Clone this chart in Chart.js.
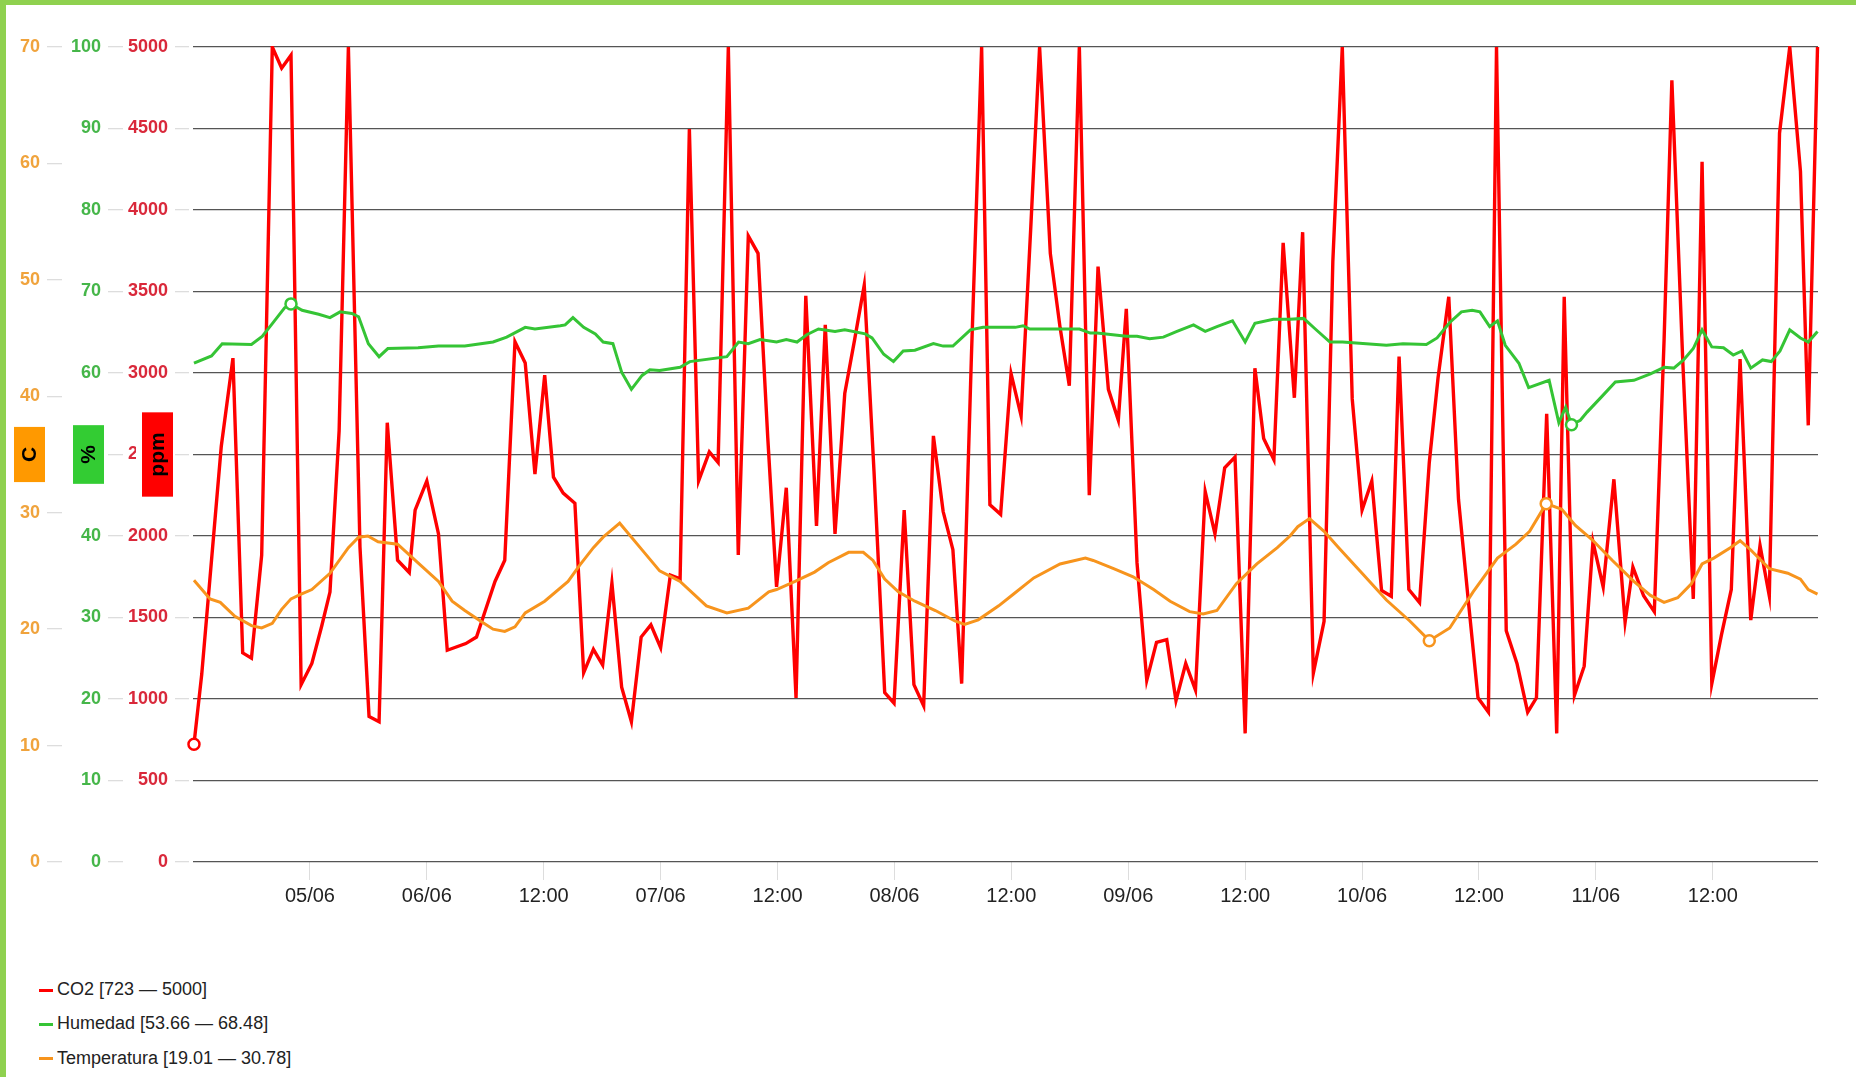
<!DOCTYPE html>
<html>
<head>
<meta charset="utf-8">
<script src="https://cdn.jsdelivr.net/npm/chart.js@4.4.1/dist/chart.umd.min.js"></script>
<style>
  html, body { margin: 0; padding: 0; background: #fff; }
  body { border-top: 5px solid #8fd14f; border-left: 6px solid #8fd14f; height: 1072px; overflow: hidden; font-family: "Liberation Sans", Arial, sans-serif; }
  #wrap { position: absolute; left: 6px; top: 5px; width: 1850px; height: 917px; }
  #legend { position: absolute; left: 39px; top: 972px; font-size: 18px; color: #222; }
  #legend div { height: 34.3px; line-height: 34.3px; white-space: nowrap; }
  #legend span { display: inline-block; width: 14px; height: 3px; margin-right: 4px; vertical-align: middle; }
</style>
</head>
<body>
<div id="wrap"><canvas id="sensores"></canvas></div>
<div id="legend"></div>
<script>
// hours since the start of the plot
var co2Hours = [0.1,0.9,2.9,4.1,5.1,6.0,7.05,8.14,9.1,10.06,11.1,12.2,13.2,14.06,15.0,15.95,17.14,18.07,19.1,19.94,
  21.0,22.2,22.8,24.0,25.2,26.1,28.0,29.1,30.1,31.0,32.0,33.05,34.1,35.1,36.1,37.0,38.0,39.2,40.1,41.1,
  42.05,43.0,44.0,45.0,46.0,47.0,48.0,49.0,50.0,50.95,51.9,53.0,53.9,54.95,55.97,57.0,58.0,59.0,59.9,60.9,
  61.9,62.9,64.0,64.9,65.9,66.9,67.9,68.9,69.9,71.0,71.96,73.0,74.0,75.0,76.0,77.0,78.0,78.9,79.9,80.95,
  81.8,82.9,83.97,85.0,86.0,86.9,88.0,89.0,89.95,90.98,92.0,92.9,93.96,94.98,95.8,96.9,97.9,98.9,99.95,100.9,
  101.9,102.9,103.9,104.9,105.9,106.96,108.0,109.0,109.9,110.95,111.9,113.05,113.9,115.0,116.1,117.0,117.97,118.99,120.0,121.0,
  122.0,123.0,123.8,124.8,125.9,126.9,127.8,128.9,129.9,130.9,131.9,132.97,133.8,134.8,135.9,137.0,137.9,138.95,139.98,140.75,
  141.8,142.8,143.7,144.75,145.85,147.0,147.8,148.9,150.0,151.0,151.8,152.9,154.0,154.9,155.9,156.9,157.9,158.8,159.9,160.85,
  161.8,162.85,163.9,165.0,165.8,166.75];
var co2Values = [723,1153,2549,3091,1283,1250,1883,5000,4870,4950,1088,1218,1445,1656,2646,5000,1932,893,860,2695,
  1851,1776,2159,2338,2013,1299,1340,1380,1560,1721,1851,3192,3062,2380,2987,2361,2263,2201,1162,1305,
  1208,1711,1072,860,1380,1455,1315,1760,1737,4497,2338,2516,2451,5000,1883,3841,3734,2600,1688,2296,
  1007,3474,2062,3296,2013,2874,3200,3539,2400,1039,974,2159,1088,958,2614,2150,1916,1094,3100,5000,
  2192,2133,2997,2737,3900,5000,3734,3280,2922,5000,2250,3653,2900,2711,3393,1835,1114,1347,1364,990,
  1218,1055,2273,2013,2419,2484,789,3029,2598,2468,3799,2848,3864,1159,1477,3685,5000,2841,2159,2338,
  1666,1630,3101,1672,1591,2451,2971,3468,2224,1607,1007,919,5000,1419,1218,919,1007,2750,789,3468,
  1023,1201,1964,1688,2348,1471,1809,1633,1536,3200,4796,3101,1614,4296,1094,1396,1672,3085,1484,1942,
  1633,4471,5000,4237,2679,5000];

var humHours = [0.1,1.9,3.0,6.0,7.1,8.1,9.4,10.06,11.2,12.9,14.06,15.1,16.3,17.0,18.0,19.1,20.0,23.1,25.2,27.9,
  30.8,32.2,34.1,35.1,37.7,38.2,39.0,40.1,41.3,42.1,43.1,44.0,45.0,46.1,46.9,47.9,50.0,51.0,54.8,56.0,
  57.0,58.2,59.9,60.9,62.0,63.0,64.2,65.9,66.9,69.0,69.7,70.9,71.9,72.9,74.1,76.0,77.0,78.0,79.8,81.1,
  84.4,85.2,85.9,91.0,92.1,92.8,95.8,96.9,98.2,99.6,101.0,102.7,103.9,105.1,106.7,108.0,109.0,110.9,112.6,114.0,
  115.2,116.7,118.0,122.5,124.2,126.6,127.7,129.0,130.2,131.3,132.1,133.1,133.9,134.7,136.1,137.1,139.2,140.2,140.9,141.5,
  142.4,143.1,144.6,146.0,147.9,149.6,151.0,152.0,153.0,154.0,154.9,155.9,157.1,158.1,159.0,159.9,161.1,162.0,162.9,163.9,
  165.0,165.8,166.75];
var humValues = [61.2,62.1,63.6,63.5,64.5,66.0,68.0,68.48,67.7,67.2,66.8,67.5,67.3,66.9,63.6,62.0,63.0,63.1,63.3,63.3,
  63.8,64.4,65.6,65.4,65.8,65.9,66.8,65.6,64.8,63.8,63.6,60.1,58.0,59.7,60.4,60.3,60.7,61.4,62.0,63.8,
  63.6,64.1,63.8,64.1,63.8,64.7,65.4,65.1,65.3,64.8,64.3,62.3,61.4,62.7,62.8,63.6,63.3,63.3,65.3,65.6,
  65.6,65.8,65.4,65.4,64.9,64.9,64.5,64.5,64.2,64.4,65.1,65.9,65.1,65.7,66.4,63.8,66.1,66.6,66.6,66.7,
  65.4,63.8,63.8,63.4,63.6,63.5,64.3,66.2,67.5,67.7,67.5,65.7,66.4,63.4,61.2,58.2,59.1,53.9,55.8,53.66,
  54.2,55.2,57.1,58.9,59.1,59.9,60.7,60.6,61.6,63.0,65.3,63.2,63.1,62.2,62.7,60.6,61.6,61.4,62.7,65.3,
  64.3,63.8,65.1];

var tempHours = [0.1,1.75,2.8,4.3,6.0,7.05,8.14,9.1,10.06,11.1,12.2,14.06,15.95,17.0,17.95,19.0,21.0,23.1,25.2,26.6,
  27.9,29.5,30.8,32.0,33.05,34.1,36.1,38.5,39.7,41.1,42.1,43.8,45.9,47.9,50.0,52.7,54.8,57.0,59.1,59.9,
  61.8,63.8,65.2,67.3,68.8,69.8,71.0,72.4,74.1,76.2,78.2,79.2,80.6,82.7,84.2,86.3,89.0,91.6,92.4,94.5,
  96.5,98.6,100.3,102.3,103.7,105.1,107.1,109.2,111.3,112.6,113.4,114.6,116.1,117.6,120.0,122.5,124.9,126.9,129.0,131.4,
  133.9,135.8,137.2,138.9,140.5,141.9,143.6,145.7,147.9,149.6,151.0,152.4,153.8,154.9,156.1,157.8,158.8,159.9,161.8,163.7,
  165.0,165.8,166.75];
var tempValues = [24.2,22.6,22.3,21.1,20.3,20.1,20.5,21.7,22.6,23.0,23.4,24.8,27.0,27.9,28.0,27.5,27.3,25.7,24.1,22.4,
  21.6,20.7,20.0,19.8,20.2,21.4,22.4,24.1,25.5,27.0,27.9,29.1,27.0,25.0,24.1,22.0,21.4,21.8,23.2,23.4,
  24.1,24.9,25.7,26.6,26.6,25.9,24.3,23.2,22.4,21.6,20.7,20.4,20.8,22.0,23.0,24.4,25.6,26.1,25.9,25.2,
  24.5,23.4,22.4,21.5,21.3,21.6,23.9,25.6,27.0,28.0,28.8,29.5,28.4,27.0,24.8,22.5,20.7,19.01,20.1,23.2,
  26.1,27.3,28.4,30.78,30.3,28.9,27.7,25.9,24.1,22.9,22.3,22.7,23.9,25.6,26.1,27.0,27.6,26.8,25.2,24.8,
  24.3,23.4,23.0];

var tickHours = [12,24,36,48,60,72,84,96,108,120,132,144,156];
var tickLabels = ['05/06','06/06','12:00','07/06','12:00','08/06','12:00','09/06','12:00','10/06','12:00','11/06','12:00'];

var seriesNames = ['CO2','Humedad','Temperatura'];
var legendTexts = ['CO2 [723 \u2014 5000]','Humedad [53.66 \u2014 68.48]','Temperatura [19.01 \u2014 30.78]'];
var seriesColors = ['#ff0000','#35c435','#f7941d'];

function toPoints(hours, vals){
  return hours.map(function(h,i){ return {x:h, y:vals[i]}; });
}
function minMaxIdx(vals, withMax){
  var lo = vals.indexOf(Math.min.apply(null, vals));
  var hi = vals.indexOf(Math.max.apply(null, vals));
  return withMax ? [lo, hi] : [lo];
}
function markerRadius(idx){
  return function(c){ return idx.indexOf(c.dataIndex) >= 0 ? 5.5 : 0; };
}

var co2Marks = minMaxIdx(co2Values, false);
var humMarks = minMaxIdx(humValues, true);
var tempMarks = minMaxIdx(tempValues, true);

var fontFam = '"Liberation Sans", Arial, sans-serif';

var axisTitles = [
  {axis:'yTemp', text:'C', color:'#ff9900', off:32.5},
  {axis:'yHum', text:'%', color:'#33cc33', off:34.5},
  {axis:'yCo2', text:'ppm', color:'#ff0000', off:35.5}
];

// coloured title boxes laid over the middle of each y axis
var titleBoxes = {
  id: 'titleBoxes',
  afterDraw: function(chart){
    var ctx = chart.ctx;
    var mid = (chart.chartArea.top + chart.chartArea.bottom) / 2;
    axisTitles.forEach(function(t){
      var s = chart.scales[t.axis];
      ctx.save();
      ctx.font = 'bold 21px ' + fontFam;
      var h = ctx.measureText(t.text).width + 40;
      var cx = s.right - t.off;
      ctx.fillStyle = '#fff';
      ctx.fillRect(cx - 21.5, mid - h / 2, 6, h);
      ctx.fillStyle = t.color;
      ctx.fillRect(cx - 15.5, mid - h / 2, 31, h);
      ctx.translate(cx, mid);
      ctx.rotate(-Math.PI / 2);
      ctx.fillStyle = '#000';
      ctx.textAlign = 'center';
      ctx.textBaseline = 'middle';
      ctx.fillText(t.text, 0, 1);
      ctx.restore();
    });
  }
};

function lineSet(label, pts, color, width, yAxis, marks, order){
  return {
    label: label, data: pts, yAxisID: yAxis,
    borderColor: color, borderWidth: width, tension: 0,
    pointRadius: markerRadius(marks), pointHoverRadius: 0,
    pointBackgroundColor: '#fff', pointBorderColor: color, pointBorderWidth: 2.5,
    clip: {left: 10, top: 1, right: 10, bottom: 10}, order: order
  };
}

var ctx = document.getElementById('sensores').getContext('2d');
var chart = new Chart(ctx, {
  type: 'line',
  data: {
    datasets: [
      lineSet(seriesNames[0], toPoints(co2Hours, co2Values), seriesColors[0], 3.4, 'yCo2', co2Marks, 3),
      lineSet(seriesNames[1], toPoints(humHours, humValues), seriesColors[1], 3, 'yHum', humMarks, 2),
      lineSet(seriesNames[2], toPoints(tempHours, tempValues), seriesColors[2], 3, 'yTemp', tempMarks, 1)
    ]
  },
  options: {
    responsive: true,
    maintainAspectRatio: false,
    animation: false,
    events: [],
    layout: { padding: { left: 8, top: 42, right: 38, bottom: 0 } },
    plugins: { legend: { display: false }, tooltip: { enabled: false } },
    scales: {
      x: {
        type: 'linear', min: 0, max: 166.8,
        afterBuildTicks: function(s){ s.ticks = tickHours.map(function(v){ return {value: v}; }); },
        afterFit: function(s){ s.height = 60; },
        ticks: {
          autoSkip: false, maxRotation: 0, padding: 4, color: '#222',
          font: { family: fontFam, size: 20 },
          callback: function(v, i){ return tickLabels[i]; }
        },
        grid: { drawOnChartArea: false, color: '#dddddd', tickLength: 18 },
        border: { display: false }
      },
      yCo2: {
        position: 'left', weight: 0, min: 0, max: 5000,
        afterFit: function(s){ s.width = 70; },
        ticks: { stepSize: 500, padding: 7, color: '#d9283a', format: { useGrouping: false },
          font: { family: fontFam, size: 18, weight: 'bold' } },
        grid: { color: '#555555', lineWidth: 1.3, tickColor: '#dddddd', tickLength: 18, tickBorderDash: [14, 4], tickWidth: 1.3 },
        border: { display: false }
      },
      yHum: {
        position: 'left', weight: 1, min: 0, max: 100,
        afterFit: function(s){ s.width = 61; },
        ticks: { stepSize: 10, padding: 7, color: '#45b649', font: { family: fontFam, size: 18, weight: 'bold' } },
        grid: { drawOnChartArea: false, color: '#dddddd', tickLength: 15, lineWidth: 1.3 },
        border: { display: false }
      },
      yTemp: {
        position: 'left', weight: 2, min: 0, max: 70,
        afterFit: function(s){ s.width = 48; },
        ticks: { stepSize: 10, padding: 7, color: '#f0a33c', font: { family: fontFam, size: 18, weight: 'bold' } },
        grid: { drawOnChartArea: false, color: '#dddddd', tickLength: 15, lineWidth: 1.3 },
        border: { display: false }
      }
    }
  },
  plugins: [titleBoxes]
});

var legend = document.getElementById('legend');
legendTexts.forEach(function(txt, i){
  var row = document.createElement('div');
  var dash = document.createElement('span');
  dash.style.background = seriesColors[i];
  row.appendChild(dash);
  row.appendChild(document.createTextNode(txt));
  legend.appendChild(row);
});
</script>
</body>
</html>
